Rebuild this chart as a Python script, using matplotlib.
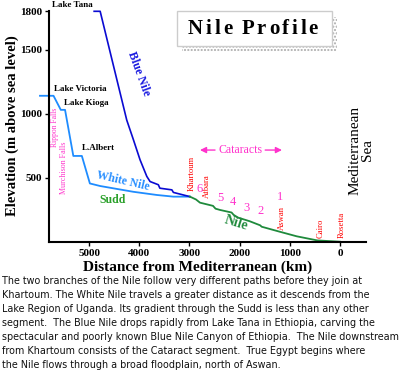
import matplotlib
matplotlib.use('Agg')
import matplotlib.pyplot as plt
from matplotlib.patches import Rectangle

# Elevation profile: km from the Mediterranean, m above sea level
blue_nile_km = [4900, 4780, 4250, 4120, 3985, 3850, 3785, 3620, 3590, 3350, 3320, 2990]
blue_nile_m = [1800, 1800, 950, 800, 640, 510, 470, 445, 418, 405, 385, 352]

white_nile_km = [5980, 5710, 5565, 5480, 5315, 5145, 4985, 4780, 4120, 3650, 3320, 2990]
white_nile_m = [1140, 1140, 1030, 1030, 670, 670, 455, 435, 390, 365, 352, 352]

nile_km = [2990, 2870, 2790, 2530, 2480, 2390, 2160, 2120, 2030, 1800, 1590, 1560, 1200, 860, 450, 0]
nile_m = [352, 330, 305, 280, 258, 248, 228, 210, 188, 160, 128, 117, 78, 42, 10, 0]

x_ticks = [5000, 4000, 3000, 2000, 1000, 0]
y_ticks = [500, 1000, 1500, 1800]

# cataract numbers (label, km, m)
cataracts = [('6', 2800, 410), ('5', 2390, 340), ('4', 2137, 312),
             ('3', 1860, 266), ('2', 1580, 242), ('1', 1195, 351)]

# red place names along the lower Nile
towns = [('Khartoum', 2958, 536), ('Atbara', 2649, 435), ('Aswan', 1165, 185),
         ('Cairo', 388, 107), ('Rosetta', -40, 130)]

caption = [
    "The two branches of the Nile follow very different paths before they join at",
    "Khartoum. The White Nile travels a greater distance as it descends from the",
    "Lake Region of Uganda. Its gradient through the Sudd is less than any other",
    "segment.  The Blue Nile drops rapidly from Lake Tana in Ethiopia, carving the",
    "spectacular and poorly known Blue Nile Canyon of Ethiopia.  The Nile downstream",
    "from Khartoum consists of the Cataract segment.  True Egypt begins where",
    "the Nile flows through a broad floodplain, north of Aswan.",
]

SERIF = 'Liberation Serif'
MAGENTA = '#ff33cc'
W, H = 400, 373

fig = plt.figure(figsize=(W / 100, H / 100), dpi=100)
ax = fig.add_axes([49 / W, 1 - 241.7 / H, 317 / W, 230.4 / H])

ax.plot(white_nile_km, white_nile_m, color='#1e8cff', lw=1.3, clip_on=False)
ax.plot(blue_nile_km, blue_nile_m, color='#0a0ad2', lw=1.2, clip_on=False)
ax.plot(nile_km, nile_m, color='#1f8a3c', lw=1.3, clip_on=False)

ax.set_xlim(5800, -520)
ax.set_ylim(0, 1800)
ax.set_xticks(x_ticks)
ax.set_yticks(y_ticks)
ax.set_xticklabels([str(v) for v in x_ticks], fontfamily=SERIF, fontweight='bold', fontsize=8)
ax.set_yticklabels([str(v) for v in y_ticks], fontfamily=SERIF, fontweight='bold', fontsize=8)
ax.tick_params(length=3, width=1, pad=2)

for side in ['top', 'right']:
    ax.spines[side].set_visible(False)
for side in ['left', 'bottom']:
    ax.spines[side].set_linewidth(1.5)

# Axis titles
fig.text(12 / W, 1 - 126 / H, 'Elevation (m above sea level)', rotation=90,
         ha='center', va='center', fontfamily=SERIF, fontweight='bold', fontsize=10.5)
fig.text(198 / W, 1 - 267 / H, 'Distance from Mediterranean (km)',
         ha='center', va='center', fontfamily=SERIF, fontweight='bold', fontsize=11)

# Lakes
lake_kw = dict(ha='center', va='center', fontfamily=SERIF, fontweight='bold', fontsize=6.5, clip_on=False)
ax.text(5339, 1851, 'Lake Tana', **lake_kw)
ax.text(5169, 1190, 'Lake Victoria', **lake_kw)
ax.text(5054, 1086, 'Lake Kioga', **lake_kw)
ax.text(4821, 729, 'L.Albert', **lake_kw)

# River names
ax.text(4018, 1310, 'Blue Nile', rotation=-70, color='#1a1ae0', ha='center', va='center',
        fontfamily=SERIF, fontweight='bold', fontsize=8.5)
ax.text(4333, 474, 'White Nile', rotation=-13, color='#2a90ff', ha='center', va='center',
        fontfamily=SERIF, fontweight='bold', fontsize=8.5)
ax.text(4522, 326, 'Sudd', color='#2aa02a', ha='center', va='center',
        fontfamily=SERIF, fontweight='bold', fontsize=8.5)
ax.text(2072, 146, 'Nile', rotation=-17, color='#1f8a3c', ha='center', va='center',
        fontfamily=SERIF, fontweight='bold', fontsize=10)

# Falls
ax.text(5687, 895, 'Rippon Falls', rotation=90, color=MAGENTA, ha='center', va='center',
        fontfamily=SERIF, fontsize=5.5)
ax.text(5498, 576, 'Murchison Falls', rotation=90, color=MAGENTA, ha='center', va='center',
        fontfamily=SERIF, fontsize=5.8)

for name, km, m in towns:
    ax.text(km, m, name, rotation=90, color='red', ha='center', va='center',
            fontfamily=SERIF, fontsize=6.2, clip_on=False)

for num, km, m in cataracts:
    ax.text(km, m, num, color=MAGENTA, ha='center', va='center', fontfamily=SERIF, fontsize=9)

# Cataracts span
ax.text(1992, 716, 'Cataracts', color=MAGENTA, ha='center', va='center', fontfamily=SERIF, fontsize=8.5)
arrow_kw = dict(arrowstyle='-|>', color=MAGENTA, lw=1, mutation_scale=9, shrinkA=0, shrinkB=0)
ax.annotate('', xy=(2790, 716), xytext=(2490, 716), arrowprops=arrow_kw)
ax.annotate('', xy=(1155, 716), xytext=(1490, 716), arrowprops=arrow_kw)

ax.text(-418, 716, 'Mediterranean\nSea', rotation=90, ha='center', va='center',
        multialignment='center', fontfamily=SERIF, fontsize=11, linespacing=0.95, clip_on=False)

# Title box with dotted shadow
bx, by, bw, bh = 177, 11.5, 155, 34.5
shadow = Rectangle(((bx + 5) / W, 1 - (by + bh + 6) / H), bw / W, bh / H, transform=fig.transFigure,
                   facecolor='white', edgecolor='#aaaaaa', hatch='.....', lw=0)
box = Rectangle((bx / W, 1 - (by + bh) / H), bw / W, bh / H, transform=fig.transFigure,
                facecolor='white', edgecolor='#cccccc', lw=1)
fig.patches.extend([shadow, box])

# Letter-spaced title
title = 'Nile Profile'
title_kw = dict(fontfamily=SERIF, fontweight='bold', fontsize=15, va='center', ha='left')
renderer = fig.canvas.get_renderer()
widths = []
for ch in title:
    if ch == ' ':
        widths.append(4.0)
        continue
    t = fig.text(0, 0, ch, **title_kw)
    widths.append(t.get_window_extent(renderer).width)
    t.remove()
extra = (130 - sum(widths)) / (len(title) - 1)
x = 188
for ch, w in zip(title, widths):
    if ch != ' ':
        fig.text(x / W, 1 - 29 / H, ch, **title_kw)
    x += w + extra

# Caption
for i, line in enumerate(caption):
    fig.text(2 / W, 1 - (280.5 + i * 14.1) / H, line, ha='left', va='center',
             fontfamily='DejaVu Sans', fontsize=6.9, color='#111111')

fig.savefig('out.png', dpi=100)
